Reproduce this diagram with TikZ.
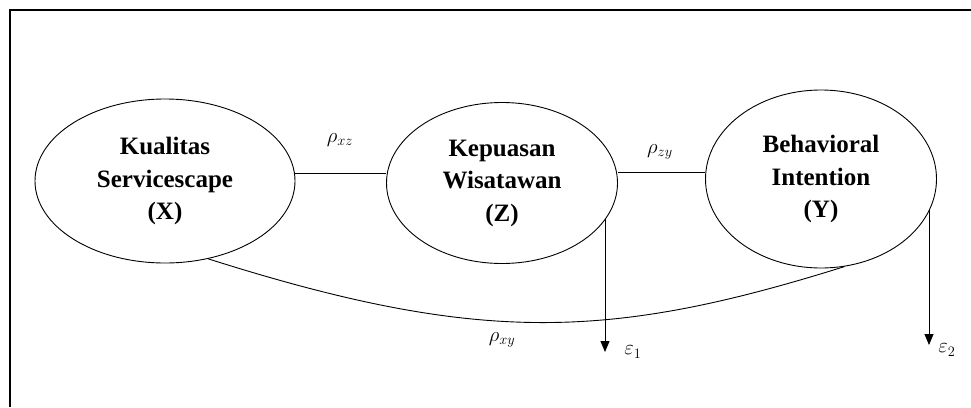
\documentclass[tikz,border=0pt]{standalone}
\usepackage{fontspec}
\setmainfont{Liberation Serif}
\usetikzlibrary{arrows.meta,shapes.geometric}
\begin{document}
\begin{tikzpicture}[x=1pt,y=-1pt,
  latent/.style={draw, ellipse, line width=0.9pt, inner sep=0pt, align=center,
    font=\fontsize{25}{32.5}\selectfont\bfseries},
  link/.style={line width=0.9pt},
  errarrow/.style={line width=0.9pt, -{Triangle[width=9pt,length=11pt]}},
  coef/.style={font=\fontsize{20}{22}\selectfont, inner sep=0pt}]
\useasboundingbox (0,0) rectangle (971,407);
\draw[line width=1.6pt] (10,407) -- (10,10) -- (971,10);
\node[latent, minimum width=260pt, minimum height=164pt] (X) at (165,181) {Kualitas\\Servicescape\\(X)};
\node[latent, minimum width=231pt, minimum height=161pt] (Z) at (502,183) {Kepuasan\\Wisatawan\\(Z)};
\node[latent, minimum width=231pt, minimum height=178pt] (Y) at (821,179) {Behavioral\\Intention\\(Y)};
\coordinate (xz) at (0,173);
\coordinate (zy) at (0,172);
\draw[link] (X.east |- xz) -- (Z.west |- xz);
\draw[link] (Z.east |- zy) -- (Y.west |- zy);
\draw[link] (X.-61) .. controls (480,345) and (610,340) .. (Y.-75);
\coordinate (e1) at (605,352);
\coordinate (e2) at (929,345);
\draw[errarrow] (e1 |- Z.-19) -- (e1);
\draw[errarrow] (e2 |- Y.-16) -- (e2);
\node[coef] (lxz) at (340,140) {$\rho_{xz}$};
\node[coef] (lzy) at (660,152) {$\rho_{zy}$};
\node[coef] (lxy) at (502,340) {$\rho_{xy}$};
\node[coef] (le1) at (633,352) {$\varepsilon_1$};
\node[coef] (le2) at (947,350) {$\varepsilon_2$};
\end{tikzpicture}
\end{document}
